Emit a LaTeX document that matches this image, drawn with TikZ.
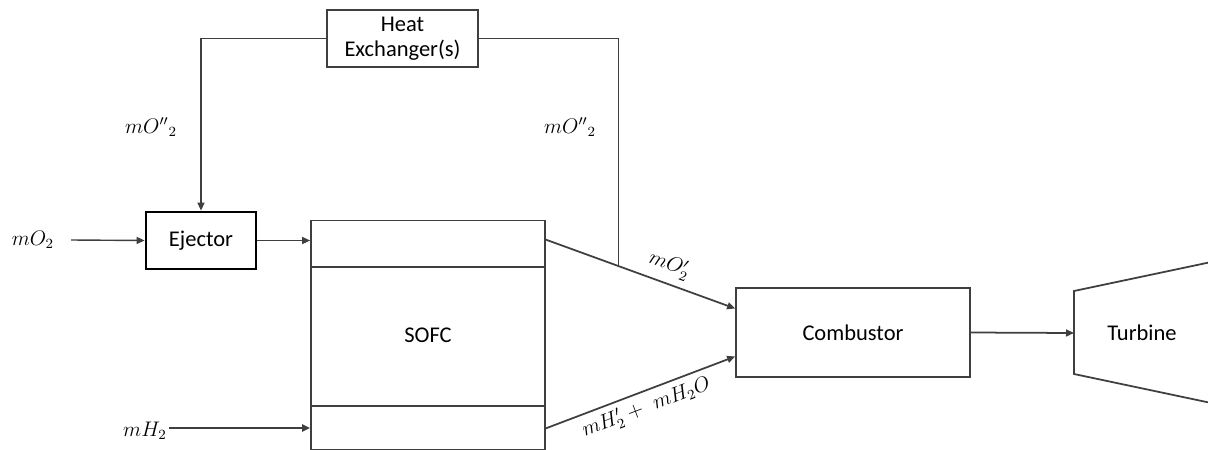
\documentclass[tikz,border=0pt]{standalone}
\usepackage{fontspec}
\setsansfont{Carlito}
\usepackage{tikz}
\usetikzlibrary{arrows.meta,positioning,calc}
\definecolor{cgrey}{HTML}{3F3F3F}
\tikzset{>={Triangle[length=1.6mm,width=1.4mm]},
  blk/.style={draw=cgrey,line width=1pt,font=\sffamily\fontsize{12.8}{15}\selectfont,align=center,inner sep=0pt},
  flow/.style={->,draw=cgrey,line width=1pt},
  pipe/.style={draw=cgrey,line width=0.8pt},
  flab/.style={font=\large,inner sep=1pt},
}

\begin{document}
\begin{tikzpicture}[x=0.02cm,y=-0.02cm]
  \useasboundingbox (0,0) rectangle (1208,450);
  % units are pixels of the original sketch, y downwards
  \node[blk,minimum width=3.02cm,minimum height=1.14cm] (hx) at (402.5,38.5) {Heat\\[-1pt]Exchanger(s)};
  \node[blk,draw=black,line width=1.6pt,minimum width=2.2cm,minimum height=1.14cm] (ej) at (201,240.5) {Ejector};
  \node[blk,minimum width=4.68cm,minimum height=4.58cm] (sofc) at (428,335) {SOFC};
  \node[blk,minimum width=4.68cm,minimum height=1.78cm] (comb) at (853,332.5) {Combustor};
  \node[blk,draw=none] (turb) at (1142,333) {Turbine};

  \draw[blk] (sofc.north west) ++(0,47) -- ($(sofc.north east)+(0,47)$);
  \draw[blk] (sofc.south west) ++(0,-44) -- ($(sofc.south east)+(0,-44)$);
  \draw[blk] (1074,291) -- (1216,261) -- (1216,404) -- (1074,374) -- cycle;
  \coordinate (tin) at (1074,333);

  \node[flab] (o2in) at (33,240) {$mO_2$};
  \node[flab] (h2in) at (145,431) {$mH_2$};
  \node[flab] (rtl) at (151,127) {$mO''{}_2$};
  \node[flab] (rtr) at (570,127) {$mO''{}_2$};

  \coordinate (o2out) at ($(sofc.north east)+(0,20)$);
  \coordinate (h2out) at ($(sofc.south east)+(0,-22)$);
  \coordinate (cin1) at ($(comb.west)+(0,-24)$);
  \coordinate (cin2) at ($(comb.west)+(0,24)$);
  \coordinate (tap) at ($(o2out)!0.385!(cin1)$);

  \draw[flow,line width=0.8pt] (o2in.east) ++(15,0) -- (ej.west);
  \draw[flow,line width=0.8pt] (ej.east) -- (ej.east -| sofc.west);
  \draw[flow,line width=1.2pt] (h2in.east) ++(0,-3) -- ($(h2in.east -| sofc.west)+(0,-3)$);
  \draw[flow] (o2out) -- (cin1) node[flab,pos=0.62,sloped,above=3pt] {$mO_2'$};
  \draw[flow] (h2out) -- (cin2) node[flab,pos=0.5,sloped,below=2pt] {$mH_2' +\ mH_2O$};
  \draw[flow] (comb.east) -- (tin);

  \draw[flow,line width=0.8pt] (hx.west) -- (hx.west -| ej.north) -- (ej.north);
  \draw[pipe] (hx.east) -| (tap);
\end{tikzpicture}
\end{document}
